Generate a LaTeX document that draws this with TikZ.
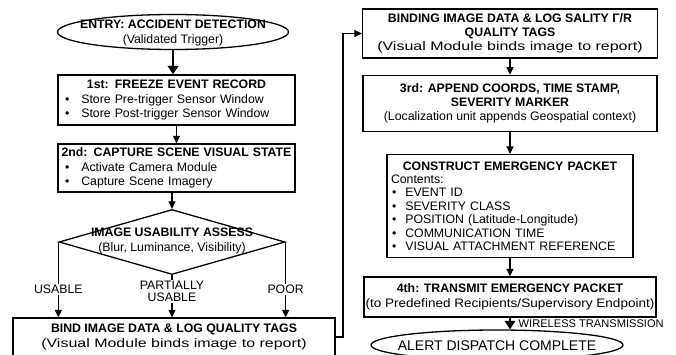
\documentclass[tikz,border=0pt]{standalone}
\usepackage{fontspec}
\setmainfont{Liberation Sans}
\usepackage{graphicx}
\usetikzlibrary{positioning}
\usetikzlibrary{shapes.geometric}
\usetikzlibrary{arrows.meta}
\def\boxfont{\fontsize{12.3}{14.3}\selectfont}
\def\packetfont{\fontsize{12.3}{13.4}\selectfont}
\newcommand{\ttl}[1]{\makebox[\linewidth]{\bfseries #1}}
\newcommand{\itm}[1]{\hspace*{7pt}\textbullet\hspace{12pt}#1}
\newcommand{\pkt}[1]{\hspace*{5pt}\textbullet\hspace{9pt}#1}
\newcommand{\widen}[2]{\scalebox{#1}[1]{#2}}
\tikzset{
stepbox/.style={draw, line width=1.3pt, inner sep=0pt, align=center, font=\boxfont},
oval/.style={draw, ellipse, line width=1.3pt, inner sep=0pt},
decision/.style={draw, diamond, line width=1.3pt, inner sep=0pt},
caption/.style={inner sep=0pt, align=center, font=\boxfont},
branch/.style={fill=white, inner sep=1.5pt, align=center, font=\fontsize{12.3}{12}\selectfont},
flow/.style={line width=1.2pt, -{Triangle[length=7.5pt,width=7pt]}},
bigflow/.style={line width=2.8pt, -{Triangle[length=8.5pt,width=10.5pt]}},
}

\begin{document}
\begin{tikzpicture}[x=1pt, y=-1pt]
\path[use as bounding box, fill=white] (0,0) rectangle (676,355);

% left column
\node[oval, minimum width=231pt, minimum height=35pt] (entry) at (173,32) {};
\node[caption] (entrytxt) at (173,33) {\textbf{ENTRY: ACCIDENT DETECTION}\\(Validated Trigger)};
\node[stepbox, text width=237pt, minimum height=50pt, align=left] (freeze) at (176.5,100)
	{\ttl{1st: FREEZE EVENT RECORD}\\\itm{Store Pre-trigger Sensor Window}\\\itm{Store Post-trigger Sensor Window}};
\node[stepbox, text width=237pt, minimum height=48pt, align=left] (capture) at (176.5,168)
	{\ttl{2nd: CAPTURE SCENE VISUAL STATE}\\\itm{Activate Camera Module}\\\itm{Capture Scene Imagery}};
\node[decision, minimum width=226pt, minimum height=65pt] (assess) at (172,242) {};
\node[caption] (assesstxt) at (172,241) {\textbf{IMAGE USABILITY ASSESS}\\(Blur, Luminance, Visibility)};
\node[stepbox, minimum width=322pt, minimum height=38pt] (bind) at (174,337)
	{\textbf{BIND IMAGE DATA \& LOG QUALITY TAGS}\\\widen{1.3}{(Visual Module binds image to report)}};

% right column
\node[stepbox, minimum width=295pt, minimum height=49pt] (bindtag) at (510,33.5)
	{\textbf{BINDING IMAGE DATA \& LOG SALITY Γ/R}\\\textbf{QUALITY TAGS}\\\widen{1.3}{(Visual Module binds image to report)}};
\node[stepbox, minimum width=294pt, minimum height=56pt, below=16pt of bindtag] (append)
	{\textbf{3rd: APPEND COORDS, TIME STAMP,}\\\textbf{SEVERITY MARKER}\\(Localization unit appends Geospatial context)};
\node[stepbox, text width=246pt, minimum height=103pt, align=left, font=\packetfont, below=22pt of append] (packet)
	{\ttl{CONSTRUCT EMERGENCY PACKET}\\\hspace*{4pt}Contents:\\\pkt{EVENT ID}\\\pkt{SEVERITY CLASS}\\\pkt{POSITION (Latitude-Longitude)}\\\pkt{COMMUNICATION TIME}\\\pkt{VISUAL ATTACHMENT REFERENCE}};
\node[stepbox, minimum width=292pt, minimum height=40pt, below=18pt of packet] (send)
	{\textbf{4th: TRANSMIT EMERGENCY PACKET}\\\widen{1.1}{(to Predefined Recipients/Supervisory Endpoint)}};
\node[oval, minimum width=252pt, minimum height=30pt] (done) at (497,345) {};
\node[caption, font=\fontsize{14}{16}\selectfont] (donetxt) at (497,346) {ALERT DISPATCH COMPLETE};

% arrows
\draw[bigflow] (entry.south) -- (entry.south |- freeze.north);
\draw[flow] (freeze) -- (capture);
\draw[flow] (assess.north |- capture.south) -- (assess.north);
\draw[flow] (assess.west) -- (assess.west |- bind.north) node[branch, pos=0.63] (usable) {USABLE};
\draw[flow] (assess.south) -- (assess.south |- bind.north) node[branch, pos=0.39] (partial) {PARTIALLY\\USABLE};
\draw[flow] (assess.east) -- (assess.east |- bind.north) node[branch, pos=0.63] (poor) {POOR};
\coordinate (turn) at (343,33);
\draw[flow] (bind.east) -| (turn |- bindtag.west) -- (bindtag.west);
\draw[flow] (bindtag) -- (append);
\draw[flow] (append) -- (packet);
\draw[flow] (packet) -- (send);
\draw[bigflow] (send.south) -- (send.south |- done.north)
	node[midway, right=4pt, font=\fontsize{11.1}{12}\selectfont] (radio) {WIRELESS TRANSMISSION};
\end{tikzpicture}
\end{document}
